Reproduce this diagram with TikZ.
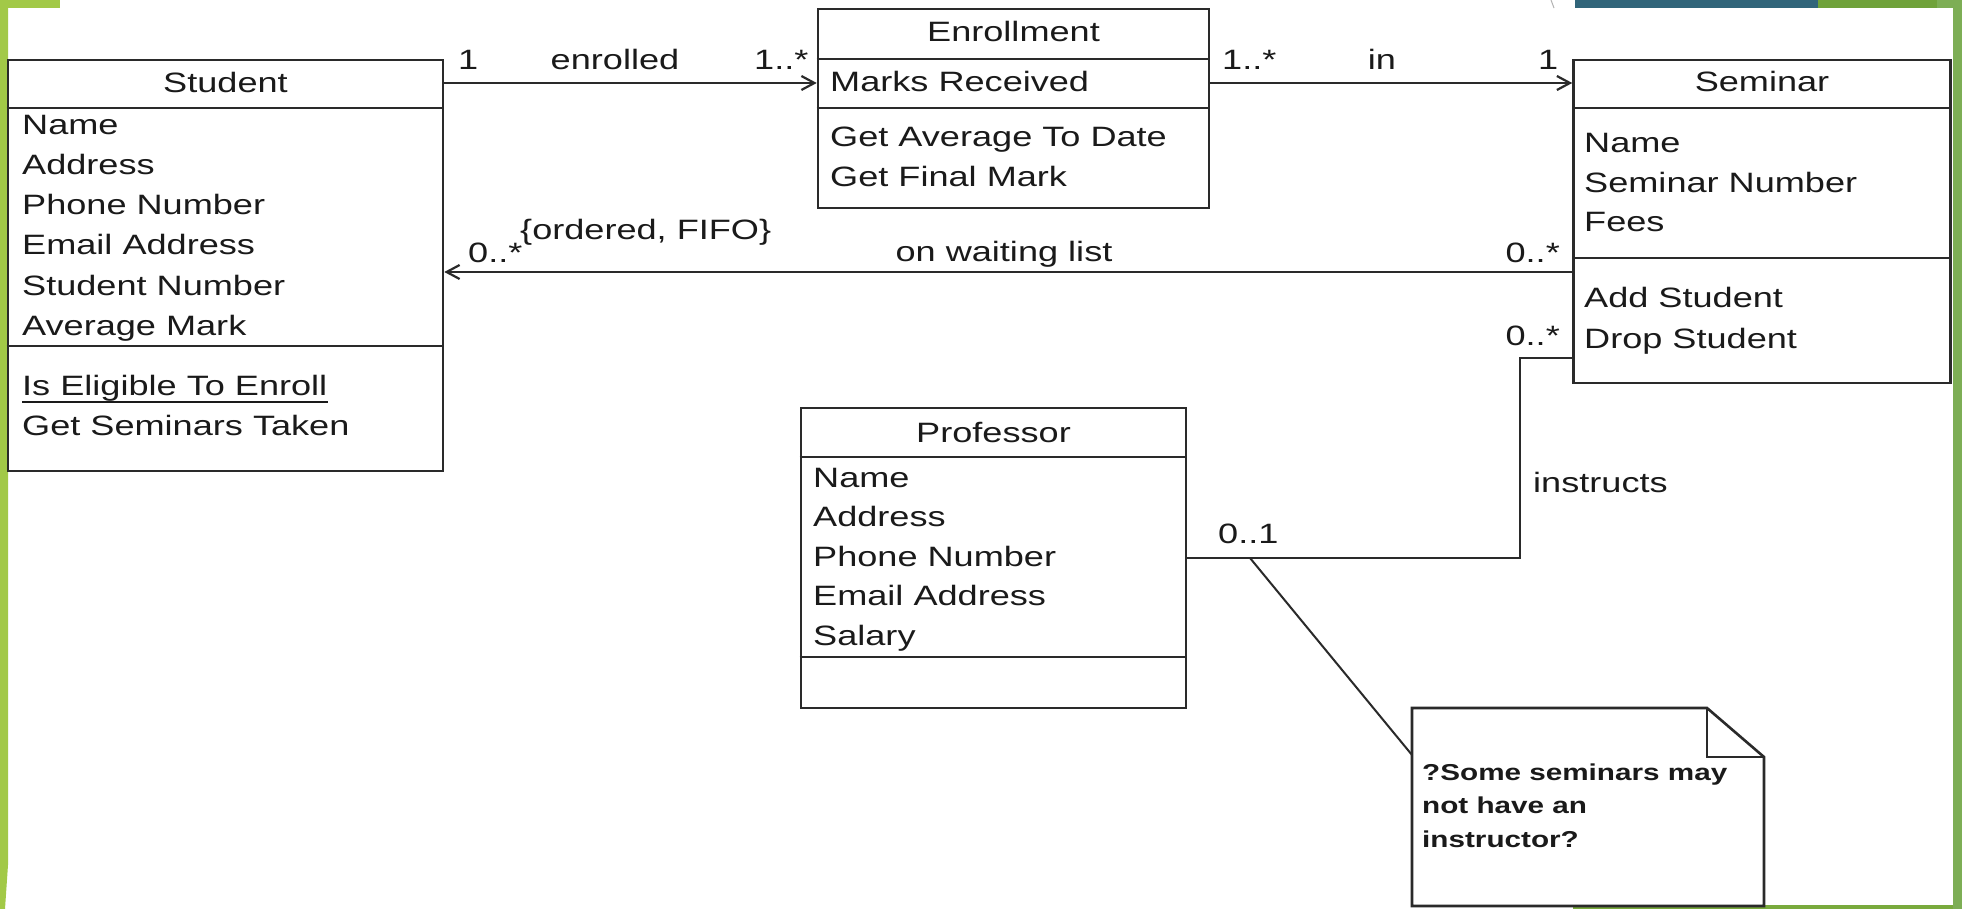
\documentclass[tikz,border=0pt]{standalone}
\usepackage{fontspec}
\setmainfont{Liberation Sans}[FakeStretch=1.29]
\usetikzlibrary{arrows.meta}
\definecolor{lime}{HTML}{A2C947}
\definecolor{teal}{HTML}{31657A}
\definecolor{leaf}{HTML}{6FA23A}
\definecolor{leaflight}{HTML}{7DAE55}
\definecolor{boxgray}{HTML}{2A2A2A}
\definecolor{ink}{HTML}{1A1A1A}
\begin{document}
\begin{tikzpicture}[x=1pt,y=-1pt,
  classbox/.style={draw=boxgray, line width=2.6pt, fill=white, inner sep=0pt},
  sep/.style={draw=boxgray, line width=2.6pt},
  txt/.style={inner sep=0pt, text=ink, font=\fontsize{28}{40}\selectfont},
  notetxt/.style={inner sep=0pt, text=ink, font=\bfseries\fontsize{23}{33}\selectfont},
  assoc/.style={draw=boxgray, line width=2.2pt},
  navi/.style={assoc, -{Straight Barb[length=13pt,width=14pt,line width=2.2pt]}}]
\useasboundingbox (0,0) rectangle (1962,909);
\fill[white] (0,0) rectangle (1962,909);

% slide frame accents
\fill[lime] (0,0) -- (8,0) -- (8,865) -- (5,909) -- (0,909) -- cycle;
\fill[lime] (0,0) rectangle (60,8);
\fill[teal] (1575,0) rectangle (1818,8);
\fill[leaf] (1818,0) rectangle (1937,8);
\fill[leaflight] (1937,0) rectangle (1962,8);
\fill[leaflight] (1953,0) rectangle (1962,909);
\fill[leaf!80!lime] (1573,905) rectangle (1953,909);
\draw[black!30, line width=1pt] (1551,0) -- (1554,8);

% ---------- Student ----------
\node[classbox, minimum width=435pt, minimum height=411pt] (student) at (225.5,265.5) {};
\draw[sep] (student.west |- 0,108) -- (student.east |- 0,108);
\draw[sep] (student.west |- 0,346) -- (student.east |- 0,346);
\node[txt, anchor=base] (student-name) at (225.5,93) {Student};
\foreach \t [count=\i] in {Name,Address,Phone Number,Email Address,Student Number,Average Mark}
  \node[txt, anchor=base west] (student-a\i) at (22,95+40*\i) {\t};
\node[txt, anchor=base west] (student-o1) at (22,395) {Is Eligible To Enroll};
\node[txt, anchor=base west] (student-o2) at (22,435) {Get Seminars Taken};
\draw[draw=ink, line width=2pt] ([yshift=-7pt]student-o1.base west) -- ([yshift=-7pt]student-o1.base east);

% ---------- Enrollment ----------
\node[classbox, minimum width=391pt, minimum height=199pt] (enroll) at (1013.5,108.5) {};
\draw[sep] (enroll.west |- 0,59) -- (enroll.east |- 0,59);
\draw[sep] (enroll.west |- 0,108) -- (enroll.east |- 0,108);
\node[txt, anchor=base] (enroll-name) at (1013.5,42) {Enrollment};
\node[txt, anchor=base west] (enroll-a1) at (830,92) {Marks Received};
\node[txt, anchor=base west] (enroll-o1) at (830,147) {Get Average To Date};
\node[txt, anchor=base west] (enroll-o2) at (830,187) {Get Final Mark};

% ---------- Seminar ----------
\node[classbox, minimum width=377pt, minimum height=323pt] (seminar) at (1762,221.5) {};
\draw[sep] (seminar.west |- 0,108) -- (seminar.east |- 0,108);
\draw[sep] (seminar.west |- 0,258) -- (seminar.east |- 0,258);
\node[txt, anchor=base] (seminar-name) at (1762,92) {Seminar};
\node[txt, anchor=base west] (seminar-a1) at (1584,153) {Name};
\node[txt, anchor=base west] (seminar-a2) at (1584,192.5) {Seminar Number};
\node[txt, anchor=base west] (seminar-a3) at (1584,232) {Fees};
\node[txt, anchor=base west] (seminar-o1) at (1584,308) {Add Student};
\node[txt, anchor=base west] (seminar-o2) at (1584,348) {Drop Student};

% ---------- Professor ----------
\node[classbox, minimum width=385pt, minimum height=300pt] (prof) at (993.5,558) {};
\draw[sep] (prof.west |- 0,457) -- (prof.east |- 0,457);
\draw[sep] (prof.west |- 0,657) -- (prof.east |- 0,657);
\node[txt, anchor=base] (prof-name) at (993.5,442) {Professor};
\foreach \t [count=\i] in {Name,Address,Phone Number,Email Address,Salary}
  \node[txt, anchor=base west] (prof-a\i) at (813,447.5+39.5*\i) {\t};

% ---------- associations ----------
\draw[navi] (student.east |- 0,83) -- (enroll.west |- 0,83);
\node[txt, anchor=base west] (enr-m1) at (458,70) {1};
\node[txt, anchor=base] (enr-lbl) at (615,70) {enrolled};
\node[txt, anchor=base west] (enr-m2) at (754,70) {1..*};

\draw[navi] (enroll.east |- 0,83) -- (seminar.west |- 0,83);
\node[txt, anchor=base west] (in-m1) at (1222,70) {1..*};
\node[txt, anchor=base] (in-lbl) at (1382,70) {in};
\node[txt, anchor=base west] (in-m2) at (1538,70) {1};

\draw[navi] (seminar.west |- 0,272) -- (student.east |- 0,272);
\node[txt, anchor=base west] (wait-m1) at (468,263) {0..*};
\node[txt, anchor=base west] (wait-con) at (520,240) {\{ordered, FIFO\}};
\node[txt, anchor=base] (wait-lbl) at (1004,262) {on waiting list};
\node[txt, anchor=base east] (wait-m2) at (1560,263) {0..*};

\coordinate (bend1) at (1520,358);
\coordinate (bend2) at (1520,558);
\draw[assoc] (seminar.west |- bend1) -- (bend1) -- (bend2) -- (prof.east);
\node[txt, anchor=base east] (ins-m1) at (1560,345) {0..*};
\node[txt, anchor=base west] (ins-lbl) at (1533,492) {instructs};
\node[txt, anchor=base west] (ins-m2) at (1218,543) {0..1};

% ---------- note ----------
\draw[draw=boxgray, line width=2.6pt, fill=white]
  (1412,708) -- (1707,708) -- (1764,757) -- (1764,906) -- (1412,906) -- cycle;
\draw[draw=boxgray, line width=2.4pt] (1707,708) -- (1707,757) -- (1764,757);
\node[notetxt, anchor=base west] (note-l1) at (1422,780) {?Some seminars may};
\node[notetxt, anchor=base west] (note-l2) at (1422,813) {not have an};
\node[notetxt, anchor=base west] (note-l3) at (1422,847) {instructor?};
\coordinate (note-pin) at (1250,558);
\coordinate (note-edge) at (1412,755);
\draw[draw=boxgray, line width=2pt] (note-pin) -- (note-edge);
\end{tikzpicture}
\end{document}
